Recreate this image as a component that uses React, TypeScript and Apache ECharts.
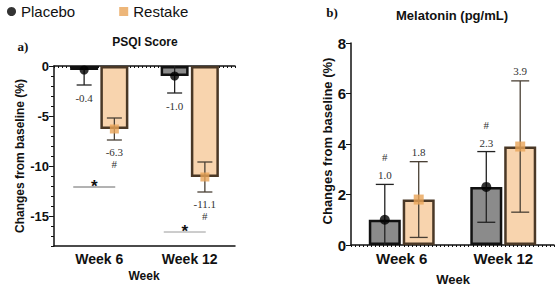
import React, { useEffect, useRef } from 'react';
import * as echarts from 'echarts';

const weeks = ['Week 6', 'Week 12'];

// PSQI score, % change from baseline (mean and SD per week)
const psqiPlacebo = [-0.4, -1.0];
const psqiPlaceboSd = [1.5, 1.7];
const psqiRestake = [-6.3, -11.1];
const psqiRestakeSd = [1.1, 1.5];
const psqiRestakeNotes = ['#', '#'];
const psqiSigLevels = [-12.1, -16.6];
const psqiTicks = [0, -5, -10, -15];

// Melatonin (pg/mL), % change from baseline
const melPlacebo = [1.0, 2.3];
const melPlaceboSd = [1.4, 1.4];
const melRestake = [1.8, 3.9];
const melRestakeSd = [1.5, 2.6];
const melPlaceboNotes = ['#', '#'];

const SANS = 'Liberation Sans, Arial, sans-serif';
const SERIF = 'Liberation Serif, Times New Roman, serif';

const PLACEBO_FILL = '#8b8b8b';
const PLACEBO_EDGE = '#111111';
const RESTAKE_FILL = '#f8d4ae';
const RESTAKE_EDGE = '#4a3826';
const RESTAKE_MARK = '#e9a458';

const LEFT_BAR = 28;
const LEFT_GAP = 0.08;
const RIGHT_BAR = 32;
const RIGHT_GAP = 0.06;
const leftOff = (LEFT_BAR * (1 + LEFT_GAP)) / 2;
const rightOff = (RIGHT_BAR * (1 + RIGHT_GAP)) / 2;

function errorBars(xi: number, yi: number, means: number[], sds: number[], offset: number, color: string, cap: number) {
  return {
    type: 'custom',
    xAxisIndex: xi,
    yAxisIndex: yi,
    clip: true,
    z: 5,
    silent: true,
    data: means.map((m, i) => [i, m, sds[i]]),
    renderItem: (_p: any, api: any) => {
      const i = api.value(0);
      const m = api.value(1);
      const s = api.value(2);
      const x = api.coord([i, m])[0] + offset;
      const yHi = api.coord([i, m + s])[1];
      const yLo = api.coord([i, m - s])[1];
      const style = { stroke: color, lineWidth: 1.3 };
      return {
        type: 'group',
        children: [
          { type: 'line', shape: { x1: x, y1: yHi, x2: x, y2: yLo }, style },
          { type: 'line', shape: { x1: x - cap / 2, y1: yHi, x2: x + cap / 2, y2: yHi }, style },
          { type: 'line', shape: { x1: x - cap / 2, y1: yLo, x2: x + cap / 2, y2: yLo }, style },
        ],
      };
    },
  };
}

// value text (and optional note) placed beyond the end of each error bar
function valueLabels(
  xi: number, yi: number, means: number[], sds: number[], offset: number,
  dir: number, notes: string[] | null, gap: number, noteGap: number,
) {
  return {
    type: 'custom',
    xAxisIndex: xi,
    yAxisIndex: yi,
    z: 6,
    silent: true,
    data: means.map((m, i) => [i, m, sds[i]]),
    renderItem: (_p: any, api: any) => {
      const i = api.value(0);
      const m = api.value(1);
      const s = api.value(2);
      const x = api.coord([i, m])[0] + offset;
      const yEnd = api.coord([i, m + dir * s])[1];
      const sign = dir > 0 ? -1 : 1;
      const children: any[] = [
        {
          type: 'text',
          x,
          y: yEnd + sign * gap,
          style: {
            text: m.toFixed(1),
            fill: '#333',
            font: `11px ${SERIF}`,
            textAlign: 'center',
            textVerticalAlign: 'middle',
          },
        },
      ];
      if (notes && notes[i]) {
        children.push({
          type: 'text',
          x,
          y: yEnd + sign * noteGap,
          style: {
            text: notes[i],
            fill: '#333',
            font: `11px ${SERIF}`,
            textAlign: 'center',
            textVerticalAlign: 'middle',
          },
        });
      }
      return { type: 'group', children };
    },
  };
}

const brackets = {
  type: 'custom',
  xAxisIndex: 0,
  yAxisIndex: 0,
  z: 6,
  silent: true,
  data: psqiSigLevels.map((v, i) => [i, v]),
  renderItem: (params: any, api: any) => {
    const i = api.value(0);
    const v = api.value(1);
    const [cx, y] = api.coord([i, v]);
    const col = params.dataIndex === 0 ? '#666' : '#9a9a9a';
    return {
      type: 'group',
      children: [
        { type: 'line', shape: { x1: cx - 26, y1: y, x2: cx + 16, y2: y }, style: { stroke: col, lineWidth: 1 } },
        {
          type: 'text',
          x: cx - 5,
          y: y - 1,
          style: { text: '*', fill: '#111', font: `bold 17px ${SANS}`, textAlign: 'center', textVerticalAlign: 'middle' },
        },
      ],
    };
  },
};

function buildOption() {
  const tickLabel = (size: number) => ({ color: '#111', fontFamily: SANS, fontWeight: 'bold', fontSize: size });
  return {
    animation: false,
    backgroundColor: '#ffffff',
    legend: {
      left: 2,
      top: -1,
      itemWidth: 9,
      itemHeight: 9,
      itemGap: 44,
      selectedMode: false,
      textStyle: { fontFamily: SANS, fontSize: 15, color: '#111' },
      data: [
        { name: 'Placebo', icon: 'circle', itemStyle: { color: '#000' } },
        { name: 'Restake', icon: 'rect', itemStyle: { color: RESTAKE_MARK } },
      ],
    },
    grid: [
      { left: 54, top: 66, width: 181, height: 180 },
      { left: 351, top: 43, width: 203, height: 202 },
    ],
    xAxis: [
      {
        type: 'category', gridIndex: 0, data: weeks, position: 'bottom',
        axisLine: { onZero: false, lineStyle: { color: '#111', width: 1.5 } },
        axisTick: { alignWithLabel: true, length: 4, lineStyle: { color: '#111' } },
        axisLabel: { ...tickLabel(14), margin: 6 },
      },
      {
        type: 'category', gridIndex: 1, data: weeks, position: 'bottom',
        axisLine: { lineStyle: { color: '#111', width: 1.5 } },
        axisTick: { alignWithLabel: true, length: 4, lineStyle: { color: '#111' } },
        axisLabel: { ...tickLabel(15), margin: 6 },
      },
      // zero line of the PSQI panel with its small dotted ticks
      {
        type: 'value', gridIndex: 0, position: 'top', min: 0, max: 45, interval: 1,
        axisLine: { show: true, onZero: false, lineStyle: { color: '#111', width: 1.5 } },
        axisTick: { show: true, inside: true, length: 2, lineStyle: { color: '#111', width: 1 } },
        axisLabel: { show: false }, splitLine: { show: false },
      },
      {
        type: 'value', gridIndex: 1, position: 'bottom', min: 0, max: 50, interval: 1,
        axisLine: { show: false },
        axisTick: { show: true, length: 2, lineStyle: { color: '#111', width: 1 } },
        axisLabel: { show: false }, splitLine: { show: false },
      },
    ],
    yAxis: [
      {
        type: 'value', gridIndex: 0, position: 'left', min: -18, max: 0, interval: 1,
        axisLine: { show: true, lineStyle: { color: '#111', width: 1.5 } },
        axisTick: { show: true, length: 3, lineStyle: { color: '#111' } },
        axisLabel: {
          ...tickLabel(13), margin: 5,
          formatter: (v: number) => (psqiTicks.includes(v) ? String(v) : ''),
        },
        splitLine: { show: false },
      },
      {
        type: 'value', gridIndex: 1, position: 'left', min: 0, max: 8, interval: 2,
        axisLine: { show: true, lineStyle: { color: '#111', width: 1.5 } },
        axisTick: { show: true, length: 5, lineStyle: { color: '#111' } },
        axisLabel: { ...tickLabel(15), margin: 5 },
        splitLine: { show: false },
      },
      {
        type: 'value', gridIndex: 0, position: 'left', offset: 0, min: -18, max: 0,
        axisLine: { show: false },
        axisTick: { show: true, length: 5, customValues: psqiTicks, lineStyle: { color: '#111' } },
        axisLabel: { show: false },
        splitLine: { show: false },
      },
    ],
    series: [
      {
        name: 'Placebo PSQI', type: 'bar', xAxisIndex: 0, yAxisIndex: 0,
        data: psqiPlacebo, barWidth: LEFT_BAR, barGap: `${LEFT_GAP * 100}%`,
        itemStyle: { color: PLACEBO_FILL, borderColor: PLACEBO_EDGE, borderWidth: 2.5 },
        silent: true,
      },
      {
        name: 'Restake PSQI', type: 'bar', xAxisIndex: 0, yAxisIndex: 0,
        data: psqiRestake, barWidth: LEFT_BAR, barGap: `${LEFT_GAP * 100}%`,
        itemStyle: { color: RESTAKE_FILL, borderColor: RESTAKE_EDGE, borderWidth: 2.5 },
        silent: true,
      },
      {
        name: 'Placebo Melatonin', type: 'bar', xAxisIndex: 1, yAxisIndex: 1,
        data: melPlacebo, barWidth: RIGHT_BAR, barGap: `${RIGHT_GAP * 100}%`,
        itemStyle: { color: PLACEBO_FILL, borderColor: PLACEBO_EDGE, borderWidth: 2.5 },
        silent: true,
      },
      {
        name: 'Restake Melatonin', type: 'bar', xAxisIndex: 1, yAxisIndex: 1,
        data: melRestake, barWidth: RIGHT_BAR, barGap: `${RIGHT_GAP * 100}%`,
        itemStyle: { color: RESTAKE_FILL, borderColor: RESTAKE_EDGE, borderWidth: 2.5 },
        silent: true,
      },
      errorBars(0, 0, psqiPlacebo, psqiPlaceboSd, -leftOff, '#222', 15),
      errorBars(0, 0, psqiRestake, psqiRestakeSd, leftOff, '#4a4035', 15),
      errorBars(1, 1, melPlacebo, melPlaceboSd, -rightOff, '#222', 18),
      errorBars(1, 1, melRestake, melRestakeSd, rightOff, '#4a4035', 18),
      {
        name: 'Placebo', type: 'scatter', xAxisIndex: 0, yAxisIndex: 0, z: 8,
        data: psqiPlacebo, symbol: 'circle', symbolSize: 9, symbolOffset: [-leftOff, 0],
        itemStyle: { color: '#000' }, silent: true,
      },
      {
        name: 'Restake', type: 'scatter', xAxisIndex: 0, yAxisIndex: 0, z: 8,
        data: psqiRestake, symbol: 'rect', symbolSize: 9, symbolOffset: [leftOff, 0],
        itemStyle: { color: RESTAKE_MARK }, silent: true,
      },
      {
        name: 'Placebo', type: 'scatter', xAxisIndex: 1, yAxisIndex: 1, z: 8,
        data: melPlacebo, symbol: 'circle', symbolSize: 10, symbolOffset: [-rightOff, 0],
        itemStyle: { color: '#000' }, silent: true,
      },
      {
        name: 'Restake', type: 'scatter', xAxisIndex: 1, yAxisIndex: 1, z: 8,
        data: melRestake, symbol: 'rect', symbolSize: 10, symbolOffset: [rightOff, 0],
        itemStyle: { color: RESTAKE_MARK }, silent: true,
      },
      valueLabels(0, 0, psqiPlacebo, psqiPlaceboSd, -leftOff, -1, null, 13, 25),
      valueLabels(0, 0, psqiRestake, psqiRestakeSd, leftOff, -1, psqiRestakeNotes, 12, 24),
      valueLabels(1, 1, melPlacebo, melPlaceboSd, -rightOff, 1, melPlaceboNotes, 9, 27),
      valueLabels(1, 1, melRestake, melRestakeSd, rightOff, 1, null, 10, 26),
      brackets,
    ],
    graphic: [
      { type: 'text', x: 23, y: 46, style: { text: 'a)', fill: '#111', font: `bold 13px ${SERIF}`, textAlign: 'center', textVerticalAlign: 'middle' } },
      { type: 'text', x: 332, y: 12, style: { text: 'b)', fill: '#111', font: `bold 13px ${SERIF}`, textAlign: 'center', textVerticalAlign: 'middle' } },
      { type: 'text', x: 145, y: 42, style: { text: 'PSQI Score', fill: '#111', font: `bold 12px ${SANS}`, textAlign: 'center', textVerticalAlign: 'middle' } },
      { type: 'text', x: 452, y: 15, style: { text: 'Melatonin (pg/mL)', fill: '#111', font: `bold 13px ${SANS}`, textAlign: 'center', textVerticalAlign: 'middle' } },
      { type: 'text', x: 20, y: 156, rotation: Math.PI / 2, style: { text: 'Changes from baseline (%)', fill: '#111', font: `bold 12px ${SANS}`, textAlign: 'center', textVerticalAlign: 'middle' } },
      { type: 'text', x: 327, y: 141, rotation: Math.PI / 2, style: { text: 'Changes from baseline (%)', fill: '#111', font: `bold 13px ${SANS}`, textAlign: 'center', textVerticalAlign: 'middle' } },
      { type: 'text', x: 144, y: 276, style: { text: 'Week', fill: '#111', font: `bold 12px ${SANS}`, textAlign: 'center', textVerticalAlign: 'middle' } },
      { type: 'text', x: 453, y: 279, style: { text: 'Week', fill: '#111', font: `bold 13px ${SANS}`, textAlign: 'center', textVerticalAlign: 'middle' } },
    ],
  };
}

export default function App() {
  const ref = useRef<HTMLDivElement>(null);
  useEffect(() => {
    if (!ref.current) return;
    const chart = echarts.init(ref.current, undefined, { renderer: 'svg' });
    chart.setOption(buildOption() as any);
    return () => chart.dispose();
  }, []);
  return <div ref={ref} style={{ width: 560, height: 288, position: 'absolute', left: 0, top: 0 }} />;
}
